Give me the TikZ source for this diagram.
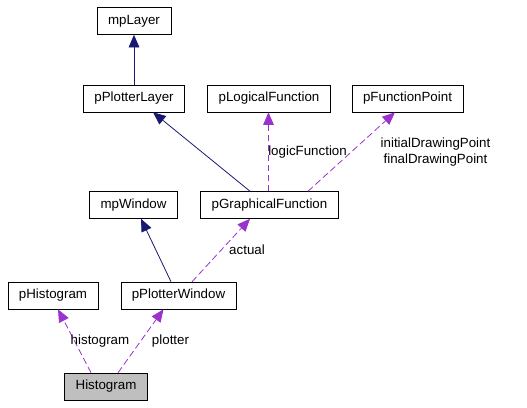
\documentclass[tikz,border=0pt]{standalone}
\usepackage{fontspec}
\setmainfont{Liberation Sans}
\usepackage{tikz}
\usetikzlibrary{shapes,arrows.meta,calc}
\definecolor{inhblue}{RGB}{25,25,112}
\definecolor{usepurple}{RGB}{154,50,205}
\definecolor{mainfill}{RGB}{191,191,191}
\tikzstyle{classbox} = [draw=black, thin, rectangle, inner xsep=8.25pt, inner ysep=0pt, minimum height=20.25pt, font=\fontsize{10}{12}\selectfont]
\tikzstyle{inherit} = [draw=inhblue, line width=0.6pt, -{Triangle[length=9.5pt,width=8pt]}]
\tikzstyle{uses} = [draw=usepurple, line width=0.6pt, dash pattern=on 5pt off 2.5pt, -{Triangle[length=9.5pt,width=8pt]}]
\tikzstyle{edgelabel} = [font=\fontsize{10}{12}\selectfont, inner sep=0pt, align=center]

\begin{document}
\begin{tikzpicture}[x=0.75pt,y=-0.75pt]
\useasboundingbox (0,0) rectangle (527,407);
% classes
\node [classbox] (mpLayer) at (134,21) {mpLayer};
\node [classbox] (pPlotterLayer) at (134,98.5) {pPlotterLayer};
\node [classbox] (pLogicalFunction) at (269,98.5) {pLogicalFunction};
\node [classbox] (pFunctionPoint) at (407.5,98.5) {pFunctionPoint};
\node [classbox] (mpWindow) at (133.5,205) {mpWindow};
\node [classbox] (pGraphicalFunction) at (269.5,205) {pGraphicalFunction};
\node [classbox] (pHistogram) at (53,295.5) {pHistogram};
\node [classbox] (pPlotterWindow) at (178.5,295.5) {pPlotterWindow};
\node [classbox, fill=mainfill] (Histogram) at (106,386.5) {Histogram};
% inheritance
\draw [inherit] (pPlotterLayer.north) -- (mpLayer.south);
\draw [inherit] ($(pGraphicalFunction.north)+(-19.5,0)$) -- ($(pPlotterLayer.south)+(19,0)$);
\draw [inherit] ($(pPlotterWindow.north)+(-7.5,0)$) -- ($(mpWindow.south)+(7.5,0)$);
% usage
\draw [uses] ($(pGraphicalFunction.north)+(-1,0)$) -- ($(pLogicalFunction.south)+(-0.5,0)$);
\draw [uses] ($(pGraphicalFunction.north)+(38.5,0)$) -- ($(pFunctionPoint.south)+(-12.5,0)$);
\draw [uses] ($(pPlotterWindow.north)+(13.5,0)$) -- ($(pGraphicalFunction.south)+(-19.5,0)$);
\draw [uses] ($(Histogram.north)+(-15,0)$) -- ($(pHistogram.south)+(5,0)$);
\draw [uses] ($(Histogram.north)+(12,0)$) -- ($(pPlotterWindow.south)+(-15,0)$);
% labels
\node [edgelabel, anchor=west] (lblLogic) at (268,152) {logicFunction};
\node [edgelabel] (lblPoint) at (435.5,152) {initialDrawingPoint\\finalDrawingPoint};
\node [edgelabel] (lblActual) at (247,250) {actual};
\node [edgelabel] (lblHisto) at (100,341) {histogram};
\node [edgelabel] (lblPlotter) at (170.5,341) {plotter};
\end{tikzpicture}
\end{document}
